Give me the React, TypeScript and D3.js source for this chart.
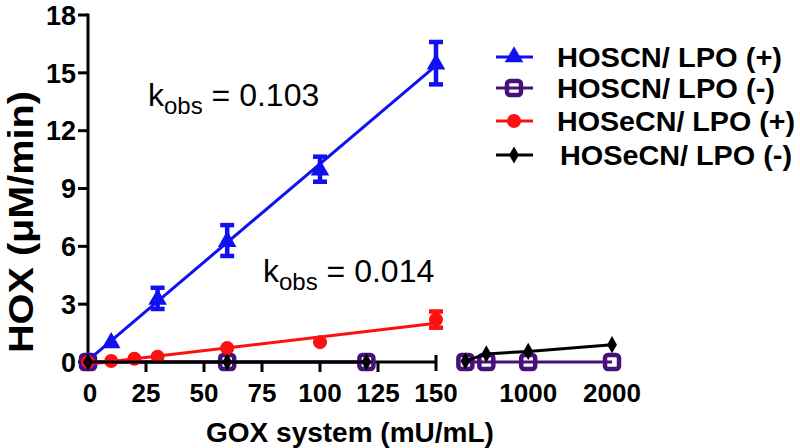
import React from "react";
import * as d3 from "d3";

// ---- data ----
const blueX = [0, 10, 30, 60, 100, 150];
const blueY = [0.05, 1.05, 3.3, 6.3, 10.0, 15.5];
const blueErr = [0, 0, 0.55, 0.8, 0.65, 1.1];

const redX = [0, 10, 20, 30, 60, 100, 150];
const redY = [0, 0.05, 0.17, 0.27, 0.72, 1.03, 2.2];
const redErr = [0, 0, 0, 0, 0, 0, 0.42];

const purpleX1 = [0, 60, 120];
const purpleY1 = [0, 0, 0];
const purpleX2 = [250, 500, 1000, 2000];
const purpleY2 = [0, 0, 0, 0];

const blackX1 = [0, 60, 120];
const blackY1 = [0, 0, 0];
const blackX2 = [250, 500, 1000, 2000];
const blackY2 = [0.05, 0.42, 0.55, 0.9];

const yTicks = [0, 3, 6, 9, 12, 15, 18];
const xTicks1 = [0, 25, 50, 75, 100, 125, 150];
const xTicks2 = [1000, 2000];

const legendLabels = ["HOSCN/ LPO (+)", "HOSCN/ LPO (-)", "HOSeCN/ LPO (+)", "HOSeCN/ LPO (-)"];
const kLabels = ["0.103", "0.014"];

const BLUE = "#1010f0";
const PURPLE = "#46127a";
const RED = "#ff1010";
const BLACK = "#000";
const FONT = "Arial, 'Liberation Sans', sans-serif";

function fit(xs: number[], ys: number[]) {
  const mx = d3.mean(xs)!;
  const my = d3.mean(ys)!;
  const sxy = d3.sum(xs, (x, i) => (x - mx) * (ys[i] - my));
  const sxx = d3.sum(xs, (x) => (x - mx) * (x - mx));
  const b = sxy / sxx;
  return { slope: b, intercept: my - b * mx };
}

export default function App() {
  const W = 800, H = 448;
  const y = d3.scaleLinear().domain([0, 18]).range([362, 15]);
  const x1 = d3.scaleLinear().domain([0, 150]).range([88, 436]);
  const x2 = d3.scaleLinear().domain([150, 2000]).range([457, 612]);

  const line = d3.line<[number, number]>().x((d) => d[0]).y((d) => d[1]);

  const blueFit = fit(blueX, blueY);
  const redFit = fit(redX, redY);
  const fitLine = (f: { slope: number; intercept: number }) =>
    line([
      [x1(0), y(f.intercept)],
      [x1(150), y(f.intercept + f.slope * 150)],
    ]) as string;

  const tri = d3.symbol().type(d3.symbolTriangle).size(150)() as string;
  const diamond = d3.symbol().type(d3.symbolDiamond).size(85)() as string;

  const Square = ({ cx, cy }: { cx: number; cy: number }) => (
    <rect x={cx - 7} y={cy - 7} width={14} height={14} rx={3} fill="none" stroke={PURPLE} strokeWidth={4.5} />
  );
  const Circle = ({ cx, cy }: { cx: number; cy: number }) => <circle cx={cx} cy={cy} r={7} fill={RED} />;
  const Tri = ({ cx, cy }: { cx: number; cy: number }) => (
    <path d={tri} transform={`translate(${cx},${cy + 1})`} fill={BLUE} />
  );
  const Dia = ({ cx, cy }: { cx: number; cy: number }) => (
    <path d={diamond} transform={`translate(${cx},${cy})`} fill={BLACK} />
  );

  const ErrBar = ({ cx, v, e, color }: { cx: number; v: number; e: number; color: string }) =>
    e > 0 ? (
      <g stroke={color} strokeWidth={4.5}>
        <line x1={cx} x2={cx} y1={y(v - e)} y2={y(v + e)} />
        <line x1={cx - 7} x2={cx + 7} y1={y(v - e)} y2={y(v - e)} />
        <line x1={cx - 7} x2={cx + 7} y1={y(v + e)} y2={y(v + e)} />
      </g>
    ) : null;

  const legendRows = [57, 88, 121, 155];
  const legendX = [557, 557, 557, 560];
  const legendW = [225, 218, 238, 232];

  return (
    <svg width={W} height={H} style={{ position: "fixed", left: 0, top: 0, background: "#fff" }} fontFamily={FONT}>
      <rect width={W} height={H} fill="#fff" />

      {/* Y axis */}
      <g stroke="#000" strokeWidth={3}>
        <line x1={88} x2={88} y1={y(18) - 1.5} y2={y(0) + 1.5} />
        {yTicks.map((t) => (
          <line key={t} x1={78} x2={88} y1={y(t)} y2={y(t)} />
        ))}
      </g>
      {yTicks.map((t) => (
        <text key={t} x={76} y={y(t)} dy="0.36em" textAnchor="end" fontSize={27} fontWeight="bold">
          {t}
        </text>
      ))}
      <text
        transform={`translate(33,222) rotate(-90)`}
        textAnchor="middle"
        fontSize={35}
        fontWeight="bold"
        textLength={262}
        lengthAdjust="spacingAndGlyphs"
      >
        HOX (μM/min)
      </text>

      {/* X axis segment 1 */}
      <g stroke="#000" strokeWidth={3}>
        <line x1={88} x2={x1(150)} y1={y(0)} y2={y(0)} />
        {xTicks1.slice(1, -1).map((t) => (
          <line key={t} x1={x1(t)} x2={x1(t)} y1={y(0)} y2={y(0) + 10} />
        ))}
        <line x1={x1(150)} x2={x1(150)} y1={y(0) - 7} y2={y(0) + 9} />
      </g>
      {xTicks1.map((t) => (
        <text key={t} x={x1(t) + (t === 0 ? 2 : 0)} y={402} textAnchor="middle" fontSize={26} fontWeight="bold">
          {t}
        </text>
      ))}
      {xTicks2.map((t) => (
        <text key={t} x={x2(t)} y={402} textAnchor="middle" fontSize={26} fontWeight="bold">
          {t}
        </text>
      ))}
      <text x={350} y={442} textAnchor="middle" fontSize={28} fontWeight="bold">
        GOX system (mU/mL)
      </text>

      {/* HOSCN/LPO (-) purple */}
      <path d={line(purpleX1.map((v, i) => [x1(v), y(purpleY1[i])]))!} stroke={PURPLE} strokeWidth={3} fill="none" />
      <path d={line(purpleX2.map((v, i) => [x2(v), y(purpleY2[i])]))!} stroke={PURPLE} strokeWidth={3} fill="none" />
      {purpleX1.map((v, i) => <Square key={"p1" + i} cx={x1(v)} cy={y(purpleY1[i])} />)}
      {purpleX2.map((v, i) => <Square key={"p2" + i} cx={x2(v)} cy={y(purpleY2[i])} />)}

      {/* HOSCN/LPO (+) blue */}
      <path d={fitLine(blueFit)} stroke={BLUE} strokeWidth={3} fill="none" />
      {blueX.map((v, i) => (
        <g key={"b" + i}>
          <ErrBar cx={x1(v)} v={blueY[i]} e={blueErr[i]} color={BLUE} />
          <Tri cx={x1(v)} cy={y(blueY[i])} />
        </g>
      ))}

      {/* HOSeCN/LPO (+) red */}
      <path d={fitLine(redFit)} stroke={RED} strokeWidth={3} fill="none" />
      {redX.map((v, i) => (
        <g key={"r" + i}>
          <ErrBar cx={x1(v)} v={redY[i]} e={redErr[i]} color={RED} />
          <Circle cx={x1(v)} cy={y(redY[i])} />
        </g>
      ))}

      {/* HOSeCN/LPO (-) black */}
      <path d={line(blackX1.map((v, i) => [x1(v), y(blackY1[i])]))!} stroke={BLACK} strokeWidth={3} fill="none" />
      <path d={line(blackX2.map((v, i) => [x2(v), y(blackY2[i])]))!} stroke={BLACK} strokeWidth={3} fill="none" />
      {blackX1.map((v, i) => <Dia key={"k1" + i} cx={x1(v)} cy={y(blackY1[i])} />)}
      {blackX2.map((v, i) => <Dia key={"k2" + i} cx={x2(v)} cy={y(blackY2[i])} />)}

      {/* k_obs annotations */}
      {[
        [148, 106],
        [263, 282],
      ].map(([tx, ty], i) => (
        <text key={"k" + i} x={tx} y={ty} fontSize={32}>
          k
          <tspan fontSize={24} dy={8}>obs</tspan>
          <tspan dy={-8}> = {kLabels[i]}</tspan>
        </text>
      ))}

      {/* Legend */}
      {legendLabels.map((lab, i) => {
        const cy = legendRows[i];
        const color = [BLUE, PURPLE, RED, BLACK][i];
        return (
          <g key={"l" + i}>
            <line x1={496} x2={533} y1={cy} y2={cy} stroke={color} strokeWidth={3} />
            {i === 0 && <Tri cx={514} cy={cy - 1} />}
            {i === 1 && <Square cx={514} cy={cy} />}
            {i === 2 && <Circle cx={514} cy={cy} />}
            {i === 3 && <Dia cx={514} cy={cy} />}
            <text
              x={legendX[i]}
              y={cy + 10}
              fontSize={28}
              fontWeight="bold"
              textLength={legendW[i]}
              lengthAdjust="spacingAndGlyphs"
            >
              {lab}
            </text>
          </g>
        );
      })}
    </svg>
  );
}
